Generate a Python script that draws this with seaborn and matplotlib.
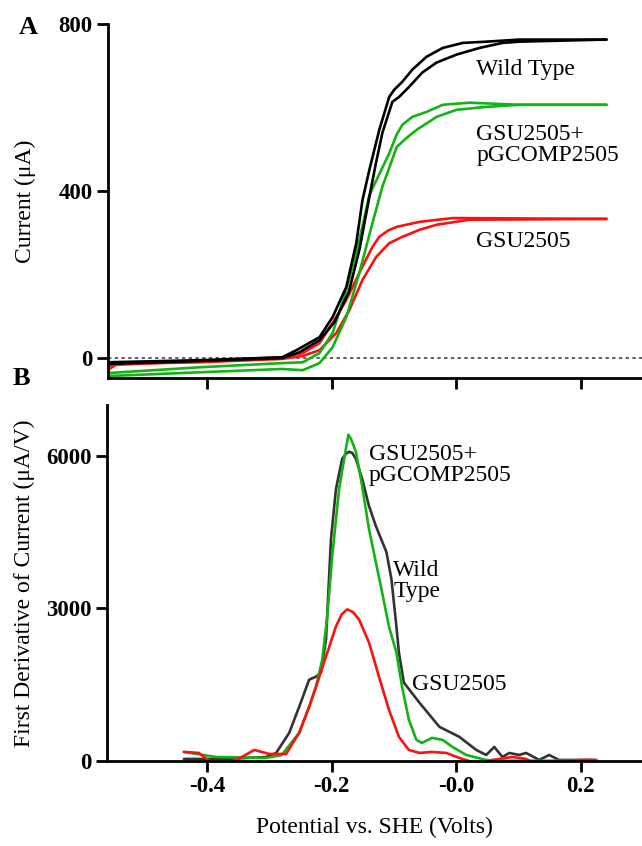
import pandas as pd
import matplotlib
matplotlib.use('Agg')
import matplotlib.pyplot as plt
import seaborn as sns

sns.set_style('ticks')
plt.rcParams['font.family'] = ['Liberation Serif', 'DejaVu Serif']
plt.rcParams['text.color'] = 'black'
plt.rcParams['axes.labelcolor'] = 'black'
plt.rcParams['axes.edgecolor'] = 'black'
plt.rcParams['xtick.color'] = 'black'
plt.rcParams['ytick.color'] = 'black'

# ---- Panel A: cyclic voltammetry, two scan branches per strain ----
wt_x1 = [-0.561, -0.413, -0.280, -0.257, -0.220, -0.199, -0.177, -0.161, -0.151, -0.140, -0.124, -0.108, -0.100, -0.087, -0.071, -0.048, -0.022, 0.010, 0.048, 0.101, 0.241]
wt_y1 = [-10, -5, 2, 19, 50, 98, 170, 275, 378, 450, 546, 625, 642, 661, 690, 721, 742, 754, 757, 762, 762]
wt_x2 = [-0.561, -0.413, -0.280, -0.252, -0.220, -0.196, -0.173, -0.156, -0.140, -0.130, -0.119, -0.103, -0.092, -0.076, -0.055, -0.032, 0.000, 0.037, 0.074, 0.101, 0.241]
wt_y2 = [-14, -7, 0, 14, 43, 86, 158, 259, 385, 462, 539, 613, 625, 649, 683, 707, 726, 742, 754, 757, 762]

comp_x1 = [-0.561, -0.413, -0.280, -0.247, -0.220, -0.199, -0.177, -0.156, -0.140, -0.124, -0.108, -0.096, -0.087, -0.071, -0.048, -0.022, 0.021, 0.101, 0.241]
comp_y1 = [-36, -22, -12, -10, 12, 60, 163, 283, 390, 440, 490, 535, 558, 577, 589, 606, 611, 606, 606]
comp_x2 = [-0.561, -0.413, -0.280, -0.247, -0.220, -0.199, -0.177, -0.156, -0.135, -0.119, -0.096, -0.080, -0.064, -0.032, 0.000, 0.048, 0.101, 0.241]
comp_y2 = [-43, -34, -26, -29, -12, 26, 98, 204, 323, 410, 505, 527, 546, 577, 594, 601, 606, 606]

mut_x1 = [-0.561, -0.413, -0.280, -0.247, -0.220, -0.199, -0.177, -0.156, -0.135, -0.124, -0.110, -0.096, -0.059, -0.006, 0.241]
mut_y1 = [-17, -7, 2, 12, 36, 84, 139, 204, 266, 290, 305, 314, 326, 335, 333]
mut_x2 = [-0.561, -0.545, -0.413, -0.280, -0.247, -0.220, -0.193, -0.172, -0.151, -0.129, -0.108, -0.087, -0.059, -0.032, 0.021, 0.241]
mut_y2 = [-29, -14, -10, -2, 5, 19, 60, 115, 187, 242, 275, 290, 307, 319, 331, 333]

# ---- Panel B: first derivative ----
wt_dx = [-0.437, -0.365, -0.305, -0.289, -0.268, -0.252, -0.236, -0.225, -0.217, -0.209, -0.201, -0.193, -0.183, -0.177, -0.172, -0.167, -0.161, -0.151, -0.140, -0.129, -0.112, -0.104, -0.096, -0.092, -0.084, -0.059, -0.027, 0.005, 0.032, 0.048, 0.061, 0.074, 0.085, 0.101, 0.112, 0.133, 0.149, 0.165, 0.198, 0.222]
wt_dy = [40, 40, 79, 158, 553, 1066, 1599, 1658, 1737, 2389, 4363, 5350, 5942, 6040, 6080, 6060, 5942, 5547, 5014, 4619, 4106, 3573, 2645, 2132, 1540, 1145, 671, 474, 217, 118, 276, 79, 158, 118, 158, 20, 118, 20, 20, 20]

comp_dx = [-0.437, -0.386, -0.305, -0.280, -0.252, -0.236, -0.225, -0.215, -0.207, -0.199, -0.188, -0.177, -0.173, -0.169, -0.161, -0.151, -0.140, -0.129, -0.119, -0.108, -0.096, -0.087, -0.076, -0.064, -0.055, -0.039, -0.022, -0.006, 0.016, 0.048, 0.069, 0.198]
comp_dy = [178, 79, 59, 118, 553, 1066, 1461, 1994, 2843, 4027, 5350, 6139, 6416, 6337, 6080, 5409, 4560, 3909, 3316, 2645, 2132, 1461, 809, 415, 355, 454, 415, 276, 118, 20, 5, 5]

mut_dx = [-0.437, -0.413, -0.392, -0.378, -0.365, -0.344, -0.324, -0.300, -0.273, -0.252, -0.236, -0.225, -0.209, -0.193, -0.184, -0.175, -0.166, -0.156, -0.140, -0.124, -0.108, -0.092, -0.076, -0.059, -0.039, -0.016, 0.005, 0.026, 0.042, 0.058, 0.090, 0.112, 0.129, 0.149, 0.173, 0.198, 0.225]
mut_dy = [178, 158, -40, -60, -40, 79, 217, 138, 138, 553, 1066, 1461, 2053, 2645, 2880, 2981, 2930, 2783, 2329, 1658, 1007, 474, 217, 158, 178, 158, 59, -20, -80, 20, 79, 40, -60, -60, -20, 20, 20]

strains = ['Wild Type', 'GSU2505+pGCOMP2505', 'GSU2505']
colors_a = {'Wild Type': '#000000', 'GSU2505+pGCOMP2505': '#12b312', 'GSU2505': '#ff1010'}
colors_b = {'Wild Type': '#333333', 'GSU2505+pGCOMP2505': '#12b312', 'GSU2505': '#ff1010'}

cv_parts = []
for name, xs, ys, br in [('Wild Type', wt_x1, wt_y1, 1), ('Wild Type', wt_x2, wt_y2, 2),
                         ('GSU2505+pGCOMP2505', comp_x1, comp_y1, 1), ('GSU2505+pGCOMP2505', comp_x2, comp_y2, 2),
                         ('GSU2505', mut_x1, mut_y1, 1), ('GSU2505', mut_x2, mut_y2, 2)]:
    cv_parts.append(pd.DataFrame({'strain': name, 'branch': br, 'E': xs, 'I': ys}))
cv = pd.concat(cv_parts, ignore_index=True)

dv_parts = []
for name, xs, ys in [('Wild Type', wt_dx, wt_dy), ('GSU2505+pGCOMP2505', comp_dx, comp_dy), ('GSU2505', mut_dx, mut_dy)]:
    dv_parts.append(pd.DataFrame({'strain': name, 'E': xs, 'dI': ys}))
dv = pd.concat(dv_parts, ignore_index=True)

fig = plt.figure(figsize=(6.42, 8.46), dpi=100)
ax1 = fig.add_axes([0.168, 0.553, 0.832, 0.419])
ax2 = fig.add_axes([0.167, 0.1005, 0.833, 0.4208])

# Panel A
ax1.axhline(0, color='0.2', lw=1.1, ls=(0, (2.2, 2.2)), zorder=0)
sns.lineplot(data=cv, x='E', y='I', hue='strain', units='branch', estimator=None, sort=False,
             palette=colors_a, hue_order=strains[::-1], lw=1.9, legend=False, ax=ax1,
             solid_joinstyle='round')
ax1.set_xlim(-0.56, 0.298)
ax1.set_ylim(-48, 800)
ax1.set_yticks([0, 400, 800])
ax1.set_xticks([-0.4, -0.2, 0.0, 0.2])
ax1.set_xticklabels([])
ax1.set_xlabel('')
ax1.set_ylabel('Current (μA)', fontsize=17, labelpad=16)
ax1.text(0.032, 690, 'Wild Type', fontsize=17, va='center')
ax1.text(0.032, 510, 'GSU2505+\npGCOMP2505', fontsize=17, va='center', linespacing=1.0)
ax1.text(0.032, 280, 'GSU2505', fontsize=17, va='center')

# Panel B
sns.lineplot(data=dv, x='E', y='dI', hue='strain', estimator=None, sort=False,
             palette=colors_b, hue_order=strains, lw=1.9, legend=False, ax=ax2,
             solid_joinstyle='round')
ax2.set_xlim(-0.56, 0.298)
ax2.set_ylim(0, 7000)
ax2.set_yticks([0, 3000, 6000])
ax2.set_xticks([-0.4, -0.2, 0.0, 0.2])
ax2.set_xticklabels(['-0.4', '-0.2', '-0.0', '0.2'])
ax2.set_xlabel('Potential vs. SHE (Volts)', fontsize=17, labelpad=14)
ax2.set_ylabel('First Derivative of Current (μA/V)', fontsize=17, labelpad=8)
ax2.text(-0.140, 5823, 'GSU2505+\npGCOMP2505', fontsize=17, va='center', linespacing=1.0)
ax2.text(-0.101, 3533, 'Wild\nType', fontsize=17, va='center', linespacing=1.0)
ax2.text(-0.071, 1500, 'GSU2505', fontsize=17, va='center')

for ax in (ax1, ax2):
    sns.despine(ax=ax)
    for s in ('left', 'bottom'):
        ax.spines[s].set_linewidth(2.0)
    ax.tick_params(width=2.0, length=8, labelsize=16.5, pad=3)
    for lab in ax.get_xticklabels() + ax.get_yticklabels():
        lab.set_fontweight('bold')

fig.text(0.044, 0.967, 'A', fontsize=19, fontweight='bold', ha='center', va='center')
fig.text(0.034, 0.553, 'B', fontsize=19, fontweight='bold', ha='center', va='center')

fig.savefig('out.png', dpi=100)
